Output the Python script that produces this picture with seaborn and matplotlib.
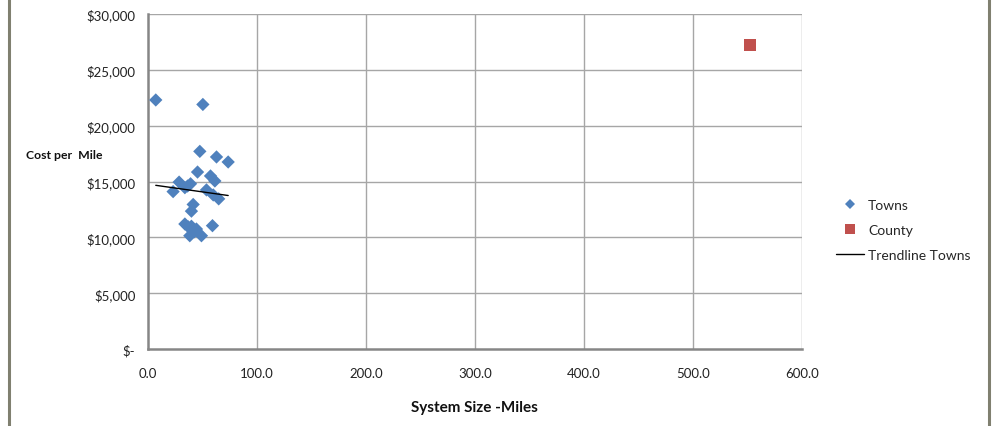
import numpy as np
import pandas as pd
import seaborn as sns
import matplotlib.pyplot as plt
from matplotlib.lines import Line2D
from matplotlib.ticker import FuncFormatter

# System size (miles) and cost per mile for each town
town_miles = [7.3, 50.5, 47.7, 63.0, 73.7, 45.6, 57.5, 61.5, 28.7, 39.2, 34.0, 36.5, 23.2,
              53.8, 60.0, 65.0, 41.6, 40.0, 34.0, 37.0, 40.0, 44.6, 59.3, 38.5, 49.2, 42.5]
town_cost = [22300, 21900, 17700, 17200, 16750, 15850, 15500, 15050, 14950, 14800, 14450, 14600, 14100,
             14250, 13800, 13450, 12950, 12350, 11200, 10950, 11000, 10750, 11050, 10150, 10150, 10500]

# County system
county_miles = [552.0]
county_cost = [27200]

x_ticks = [0, 100, 200, 300, 400, 500, 600]
y_ticks = [0, 5000, 10000, 15000, 20000, 25000, 30000]

towns = pd.DataFrame({"miles": town_miles, "cost": town_cost})
county = pd.DataFrame({"miles": county_miles, "cost": county_cost})

sns.set_theme(style="white")
plt.rcParams["font.family"] = ["Lato", "DejaVu Sans"]

fig = plt.figure(figsize=(9.92, 4.27), dpi=100)
ax = fig.add_axes([0.149, 0.180, 0.6595, 0.785])

grid_c = "#a6a6a6"
axis_c = "#868686"
for v in x_ticks[1:]:
    ax.axvline(v, color=grid_c, lw=1.0, zorder=0)
for v in y_ticks[1:]:
    ax.axhline(v, color=grid_c, lw=1.0, zorder=0)

sns.scatterplot(data=towns, x="miles", y="cost", marker="D", s=46, color="#4F81BD",
                edgecolor="none", ax=ax, zorder=3, label="Towns")
sns.scatterplot(data=county, x="miles", y="cost", marker="s", s=75, color="#C0504D",
                edgecolor="none", ax=ax, zorder=3, label="County")

# Linear trendline through the town points
coef = np.polyfit(towns["miles"], towns["cost"], 1)
tx = np.array([towns["miles"].min(), towns["miles"].max()])
ax.plot(tx, np.polyval(coef, tx), color="black", lw=1.0, zorder=4, label="Trendline Towns")

ax.set_xlim(0, 600)
ax.set_ylim(0, 30000)
ax.set_xticks(x_ticks)
ax.set_yticks(y_ticks)
ax.xaxis.set_major_formatter(FuncFormatter(lambda v, p: f"{v:.1f}"))
ax.yaxis.set_major_formatter(FuncFormatter(lambda v, p: "$-" if v == 0 else f"${v:,.0f}"))
ax.tick_params(axis="both", which="major", length=4, width=1, color=axis_c,
               labelsize=9.5, labelcolor="#222222", direction="out", pad=5)
ax.tick_params(axis="x", pad=9)

for side in ["top", "right"]:
    ax.spines[side].set_visible(False)
for side in ["left", "bottom"]:
    ax.spines[side].set_color(axis_c)
    ax.spines[side].set_linewidth(1.8)

ax.set_xlabel("System Size -Miles", fontsize=11, fontweight="bold", labelpad=15, color="#111111")
ax.set_ylabel("")
fig.text(0.026, 0.637, "Cost per  Mile", fontsize=8.8, fontweight="bold", color="#111111",
         ha="left", va="center")

handles = [
    Line2D([], [], marker="D", linestyle="none", color="#4F81BD", markersize=5.5, markeredgewidth=0),
    Line2D([], [], marker="s", linestyle="none", color="#C0504D", markersize=7, markeredgewidth=0),
    Line2D([], [], color="black", lw=1.0),
]
ax.legend(handles, ["Towns", "County", "Trendline Towns"], loc="center left",
          bbox_to_anchor=(1.033, 0.355), frameon=False, fontsize=10, handlelength=2.0,
          handletextpad=0.3, labelspacing=0.95)

# Outer chart border edges
for xf in (0.0095, 0.9965):
    fig.add_artist(Line2D([xf, xf], [0, 1], transform=fig.transFigure, color="#808070", lw=2.2))

fig.savefig("out.png", dpi=100, facecolor="white")
